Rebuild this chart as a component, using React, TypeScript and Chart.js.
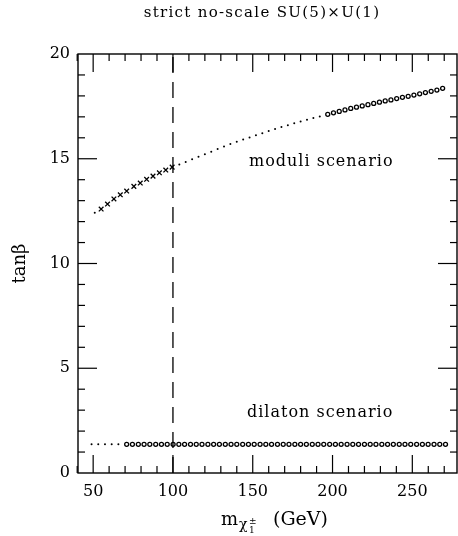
import React, { useEffect, useRef } from "react";
import { Chart, registerables } from "chart.js";

Chart.register(...registerables);

// ---- Data ----
const TITLE = "strict no-scale SU(5)×U(1)";
const X_TICKS = [50, 100, 150, 200, 250];
const X_MINOR = [40, 50, 60, 70, 80, 90, 100, 110, 120, 130, 140, 150, 160, 170, 180, 190, 200, 210, 220, 230, 240, 250, 260, 270];
const Y_TICKS = [0, 5, 10, 15, 20];
const Y_MINOR = [1, 2, 3, 4, 5, 6, 7, 8, 9, 10, 11, 12, 13, 14, 15, 16, 17, 18, 19];
const LIMIT_X = 100;

// moduli scenario
const MOD_DOT_X = [51, 104, 108, 112, 116, 120, 124, 128, 132, 136, 140, 144, 148, 152, 156, 160, 164, 168, 172, 176, 180, 184, 188, 192];
const MOD_DOT_Y = [12.42, 14.72, 14.85, 14.98, 15.1, 15.22, 15.34, 15.46, 15.58, 15.7, 15.81, 15.92, 16.02, 16.12, 16.22, 16.32, 16.42, 16.51, 16.6, 16.69, 16.78, 16.86, 16.94, 17.02];
const MOD_CROSS_X = [55, 59, 63, 67, 71, 75.5, 79.5, 83.5, 87.5, 91.5, 95.5, 99.5];
const MOD_CROSS_Y = [12.6, 12.84, 13.08, 13.28, 13.46, 13.68, 13.84, 14.02, 14.17, 14.33, 14.46, 14.6];
const MOD_CIRC_X = [197, 200.6, 204.2, 207.8, 211.4, 215, 218.6, 222.2, 225.8, 229.4, 233, 236.6, 240.2, 243.8, 247.4, 251, 254.6, 258.2, 261.8, 265.4, 269];
const MOD_CIRC_Y = [17.12, 17.19, 17.26, 17.33, 17.4, 17.46, 17.52, 17.58, 17.64, 17.7, 17.76, 17.81, 17.87, 17.93, 17.98, 18.04, 18.1, 18.16, 18.22, 18.28, 18.36];

// dilaton scenario
const DIL_DOT_X = [49, 53.2, 57.4, 61.6, 65.8];
const DIL_DOT_Y = [1.37, 1.37, 1.37, 1.37, 1.37];
const DIL_CIRC_X = [71.0, 74.6, 78.3, 81.9, 85.5, 89.2, 92.8, 96.4, 100.1, 103.7, 107.3, 111.0, 114.6, 118.2, 121.9, 125.5, 129.1, 132.8, 136.4, 140.0, 143.7, 147.3, 150.9, 154.6, 158.2, 161.8, 165.5, 169.1, 172.7, 176.4, 180.0, 183.6, 187.3, 190.9, 194.5, 198.2, 201.8, 205.4, 209.1, 212.7, 216.3, 220.0, 223.6, 227.2, 230.9, 234.5, 238.1, 241.8, 245.4, 249.0, 252.7, 256.3, 259.9, 263.6, 267.2, 270.8];
const DIL_CIRC_Y = [1.37, 1.37, 1.37, 1.37, 1.37, 1.37, 1.37, 1.37, 1.37, 1.37, 1.37, 1.37, 1.37, 1.37, 1.37, 1.37, 1.37, 1.37, 1.37, 1.37, 1.37, 1.37, 1.37, 1.37, 1.37, 1.37, 1.37, 1.37, 1.37, 1.37, 1.37, 1.37, 1.37, 1.37, 1.37, 1.37, 1.37, 1.37, 1.37, 1.37, 1.37, 1.37, 1.37, 1.37, 1.37, 1.37, 1.37, 1.37, 1.37, 1.37, 1.37, 1.37, 1.37, 1.37, 1.37, 1.37];

const SERIF = "'DejaVu Serif', serif";

const zip = (xs: number[], ys: number[]) => xs.map((x, i) => ({ x, y: ys[i] }));

const decorPlugin = {
  id: "decor",
  afterDraw(chart: any) {
    const { ctx, chartArea, scales } = chart;
    const { left, right, top, bottom } = chartArea;
    const xs = scales.x;
    const ys = scales.y;
    ctx.save();
    ctx.strokeStyle = "#000";
    ctx.lineWidth = 1.4;
    ctx.strokeRect(left, top, right - left, bottom - top);
    ctx.lineWidth = 1.2;
    const line = (x1: number, y1: number, x2: number, y2: number) => {
      ctx.beginPath();
      ctx.moveTo(x1, y1);
      ctx.lineTo(x2, y2);
      ctx.stroke();
    };
    for (const v of X_MINOR) {
      const px = xs.getPixelForValue(v);
      const len = X_TICKS.includes(v) ? 18 : 7;
      line(px, bottom, px, bottom - len);
      line(px, top, px, top + len);
    }
    for (const v of Y_MINOR) {
      const py = ys.getPixelForValue(v);
      const len = Y_TICKS.includes(v) ? 19 : 7;
      line(left, py, left + len, py);
      line(right, py, right - len, py);
    }

    ctx.fillStyle = "#000";
    // title
    ctx.font = `15px ${SERIF}`;
    (ctx as any).letterSpacing = "1.3px";
    ctx.textAlign = "center";
    ctx.textBaseline = "alphabetic";
    ctx.fillText(TITLE, 262, 17);

    // annotations
    ctx.font = `16px ${SERIF}`;
    (ctx as any).letterSpacing = "1px";
    ctx.textAlign = "left";
    ctx.fillText("moduli scenario", 249, 166);
    ctx.fillText("dilaton scenario", 247, 417);
    (ctx as any).letterSpacing = "0px";

    // y title
    ctx.save();
    ctx.translate(25, (top + bottom) / 2);
    ctx.rotate(-Math.PI / 2);
    ctx.font = `18px ${SERIF}`;
    ctx.textAlign = "center";
    ctx.fillText("tanβ", 0, 0);
    ctx.restore();

    // x title: m_{χ1±} (GeV)
    const base = 525;
    ctx.textAlign = "left";
    ctx.font = `18px ${SERIF}`;
    ctx.fillText("m", 221, base);
    ctx.font = `14px ${SERIF}`;
    ctx.fillText("χ", 239, base + 4);
    ctx.font = `9px ${SERIF}`;
    ctx.fillText("±", 249, base - 1);
    ctx.fillText("1", 249, base + 8);
    ctx.font = `19px ${SERIF}`;
    ctx.fillText("(GeV)", 273, base);
    ctx.restore();
  },
};

export default function App() {
  const ref = useRef<HTMLCanvasElement | null>(null);
  useEffect(() => {
    if (!ref.current) return;
    const chart = new Chart(ref.current, {
      type: "scatter",
      data: {
        datasets: [
          {
            data: [
              { x: LIMIT_X, y: 0 },
              { x: LIMIT_X, y: 20 },
            ],
            showLine: true,
            borderColor: "#000",
            borderWidth: 1.3,
            borderDash: [16, 9],
            pointRadius: 0,
          },
          {
            data: zip(MOD_DOT_X, MOD_DOT_Y),
            pointRadius: 1,
            pointBackgroundColor: "#000",
            pointBorderWidth: 0,
            showLine: false,
          },
          {
            data: zip(MOD_CROSS_X, MOD_CROSS_Y),
            pointStyle: "crossRot",
            pointRadius: 3.3,
            pointBorderColor: "#000",
            pointBorderWidth: 1.3,
            showLine: false,
          },
          {
            data: zip(MOD_CIRC_X, MOD_CIRC_Y),
            pointStyle: "circle",
            pointRadius: 2,
            pointBackgroundColor: "#fff",
            pointBorderColor: "#000",
            pointBorderWidth: 1.3,
            showLine: false,
          },
          {
            data: zip(DIL_DOT_X, DIL_DOT_Y),
            pointRadius: 1,
            pointBackgroundColor: "#000",
            pointBorderWidth: 0,
            showLine: false,
          },
          {
            data: zip(DIL_CIRC_X, DIL_CIRC_Y),
            pointStyle: "circle",
            pointRadius: 2,
            pointBackgroundColor: "#fff",
            pointBorderColor: "#000",
            pointBorderWidth: 1.3,
            showLine: false,
          },
        ],
      },
      options: {
        animation: false,
        responsive: false,
        maintainAspectRatio: false,
        layout: { autoPadding: false, padding: { top: 54, right: 1, left: 0, bottom: 0 } },
        plugins: {
          legend: { display: false },
          tooltip: { enabled: false },
          title: { display: false },
        },
        scales: {
          x: {
            type: "linear",
            min: 40.5,
            max: 278,
            grid: { display: false, drawTicks: false },
            border: { display: false },
            ticks: {
              color: "#000",
              font: { family: SERIF, size: 16 },
              padding: 9,
              maxRotation: 0,
              autoSkip: false,
            },
            afterBuildTicks: (s: any) => {
              s.ticks = X_TICKS.map((v) => ({ value: v }));
            },
            afterFit: (s: any) => {
              s.height = 63;
              s.paddingLeft = 0;
              s.paddingRight = 0;
            },
          },
          y: {
            type: "linear",
            min: 0,
            max: 20,
            grid: { display: false, drawTicks: false },
            border: { display: false },
            ticks: {
              color: "#000",
              font: { family: SERIF, size: 16 },
              padding: 8,
              autoSkip: false,
            },
            afterBuildTicks: (s: any) => {
              s.ticks = Y_TICKS.map((v) => ({ value: v }));
            },
            afterFit: (s: any) => {
              s.width = 78;
              s.paddingTop = 0;
              s.paddingBottom = 0;
            },
          },
        },
      },
      plugins: [decorPlugin],
    } as any);
    return () => chart.destroy();
  }, []);
  return (
    <div style={{ position: "fixed", left: 0, top: 0, width: 458, height: 536, background: "#fff" }}>
      <canvas ref={ref} width={458} height={536} style={{ width: 458, height: 536, display: "block" }} />
    </div>
  );
}
